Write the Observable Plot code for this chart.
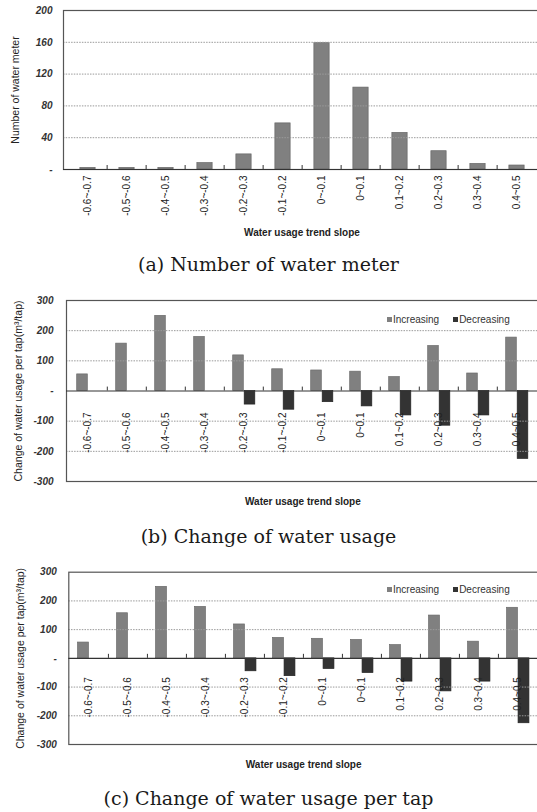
<!DOCTYPE html>
<html><head><meta charset="utf-8">
<script src="https://cdn.jsdelivr.net/npm/d3@7"></script>
<script src="https://cdn.jsdelivr.net/npm/@observablehq/plot@0.6"></script>
<style>
body{margin:0;background:#fff;}
#root{position:relative;width:537px;height:812px;overflow:hidden;font-family:"Liberation Sans",Arial,sans-serif;background:#fff;}
.panel{position:absolute;left:0;}
.cap{position:absolute;left:0;width:537px;text-align:center;font-family:"DejaVu Serif",serif;font-size:19px;line-height:24px;color:#1a1a1a;}
.legend{position:absolute;font-size:10px;color:#333;white-space:nowrap;line-height:12px;}
.legend span.sw{display:inline-block;width:5px;height:5px;margin-right:1px;vertical-align:1px;}
</style></head>
<body><div id="root"></div>
<script>
const categories = ["-0.6~-0.7","-0.5~-0.6","-0.4~-0.5","-0.3~-0.4","-0.2~-0.3","-0.1~-0.2","0~-0.1","0~0.1","0.1~0.2","0.2~0.3","0.3~0.4","0.4~0.5"];
const meterCounts = [2, 2, 2, 8, 19, 58, 159, 103, 46, 23, 7, 5];
const usageIncreasing = [55, 157, 249, 179, 118, 72, 68, 64, 46, 149, 58, 177];
const usageDecreasing = [null, null, null, null, -45, -62, -37, -51, -81, -115, -81, -225];
const perTapIncreasing = [55, 157, 249, 179, 118, 71, 68, 64, 46, 149, 58, 176];
const perTapDecreasing = [null, null, null, null, -45, -62, -37, -51, -81, -115, -81, -226];
const countTicks = [0, 40, 80, 120, 160, 200];
const changeTicks = [-300, -200, -100, 0, 100, 200, 300];
const seriesNames = ["Increasing", "Decreasing"];
const xTitle = "Water usage trend slope";
const captions = ["(a) Number of water meter", "(b) Change of water usage", "(c) Change of water usage per tap"];
const yTitles = ["Number of water meter", "Change of water usage per tap(m\u00B3/tap)"];

const W = 537;
const root = document.getElementById("root");
const GRAY = "#808080", DARK = "#333333";
const fmt = d => d === 0 ? "-" : String(d);

function place(el, top) { el.classList.add("panel"); el.style.top = top + "px"; root.appendChild(el); }
function caption(text, top) {
  const d = document.createElement("div"); d.className = "cap"; d.style.top = top + "px"; d.textContent = text; root.appendChild(d);
}
function legend(top, left) {
  const d = document.createElement("div"); d.className = "legend"; d.style.top = top + "px"; d.style.left = left + "px";
  d.innerHTML = `<span class="sw" style="background:${GRAY}"></span>${seriesNames[0]}<span style="display:inline-block;width:14px"></span><span class="sw" style="background:${DARK}"></span>${seriesNames[1]}`;
  root.appendChild(d);
}

function commonMarks(opt) {
  const {step, ticks, grid, labelDy, titleDy, ytitle, ytitleDx, tickPad, tickLen} = opt;
  return [
    Plot.ruleY(grid, {stroke: "#9a9a9a", strokeDasharray: "1.5,1.2"}),
    Plot.frame({stroke: "#555", strokeWidth: 1.2}),
    Plot.axisY({ticks, tickFormat: fmt, tickSize: 0, tickPadding: tickPad, fontSize: 10, fontStyle: "italic", fontWeight: "bold", fill: "#333", label: null}),
    Plot.text(categories, {x: d => d, frameAnchor: "bottom", dy: labelDy, rotate: -90, textAnchor: "end", lineAnchor: "middle", fontSize: 10, fill: "#222"}),
    Plot.text([xTitle], {frameAnchor: "bottom", dy: titleDy, textAnchor: "middle", fontSize: 10, fontWeight: "bold", fill: "#222"}),
    Plot.text([ytitle], {frameAnchor: "left", dx: ytitleDx, rotate: -90, textAnchor: "middle", lineAnchor: "middle", fontSize: 10.5, fill: "#222"}),
    Plot.ruleY([0], {stroke: "#333", strokeWidth: 1.2}),
    Plot.ruleX(categories.slice(1), {x: d => d, dx: -step / 2, y1: 0, y2: tickLen, stroke: "#333", strokeWidth: 1})
  ];
}

// Panel (a)
{
  const ml = 63, mr = -3, step = (W - ml - mr) / 12;
  const data = categories.map((c, i) => ({cat: c, v: meterCounts[i]}));
  const p = Plot.plot({
    width: W, height: 250, marginTop: 10, marginBottom: 81, marginLeft: ml, marginRight: mr,
    style: {background: "transparent", fontFamily: "Liberation Sans, Arial, sans-serif"},
    x: {type: "band", domain: categories, padding: 0, axis: null},
    y: {domain: [0, 200], axis: null},
    marks: [
      Plot.barY(data, {x: "cat", y: "v", fill: GRAY, stroke: "#666", strokeWidth: 0.7, insetLeft: step / 2 - 8, insetRight: step / 2 - 8}),
      ...commonMarks({step, ticks: countTicks, grid: [40, 80, 120, 160], labelDy: 6, titleDy: 66, ytitle: yTitles[0], ytitleDx: -48, tickPad: 11, tickLen: 5})
    ]
  });
  place(p, 0);
  caption(captions[0], 252);
}

function changePanel(inc, dec, o) {
  const step = (W - o.ml - o.mr) / 12;
  const incData = categories.map((c, i) => ({cat: c, v: inc[i]}));
  const decData = categories.map((c, i) => ({cat: c, v: dec[i]})).filter(d => d.v != null);
  return Plot.plot({
    width: W, height: o.height, marginTop: o.mt, marginBottom: o.mb, marginLeft: o.ml, marginRight: o.mr,
    style: {background: "transparent", fontFamily: "Liberation Sans, Arial, sans-serif"},
    x: {type: "band", domain: categories, padding: 0, axis: null},
    y: {domain: [-300, 300], axis: null},
    marks: [
      Plot.barY(incData, {x: "cat", y: "v", fill: GRAY, stroke: "#6a6a6a", strokeWidth: 0.7, insetLeft: step / 2 - 11, insetRight: step / 2}),
      Plot.barY(decData, {x: "cat", y: "v", fill: DARK, stroke: "#222", strokeWidth: 0.7, insetLeft: step / 2 + 0.5, insetRight: step / 2 - 11.5}),
      ...commonMarks({step, ticks: changeTicks, grid: [-200, -100, 100, 200], labelDy: o.labelDy, titleDy: o.titleDy, ytitle: yTitles[1], ytitleDx: o.ytitleDx, tickPad: o.tickPad, tickLen: o.tickLen})
    ]
  });
}

// Panel (b)
place(changePanel(usageIncreasing, usageDecreasing, {height: 240, mt: 20, mb: 39, ml: 66, mr: -1.8, labelDy: -69, titleDy: 23, ytitleDx: -48, tickPad: 13, tickLen: 13}), 280);
legend(314, 387);
caption(captions[1], 524);

// Panel (c)
place(changePanel(perTapIncreasing, perTapDecreasing, {height: 225, mt: 21.7, mb: 31, ml: 68.3, mr: -1, labelDy: -67.3, titleDy: 23, ytitleDx: -48.3, tickPad: 12, tickLen: 14}), 550);
legend(584, 387);
caption(captions[2], 786);
</script>
</body></html>
